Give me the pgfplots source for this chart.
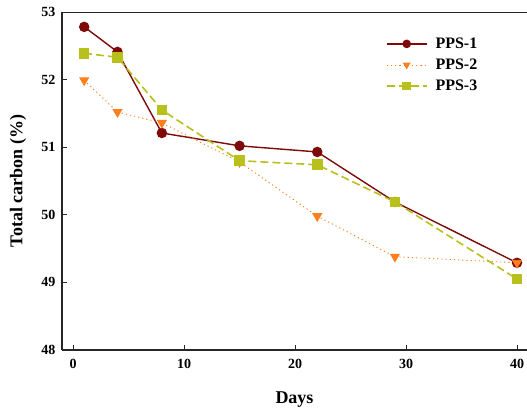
\documentclass[border=0pt]{standalone}
\usepackage{fontspec}
\setmainfont{Liberation Serif}
\usepackage{pgfplots}
\pgfplotsset{compat=1.18}
\usetikzlibrary{calc}
\definecolor{ppsone}{HTML}{7E0A0A}
\definecolor{ppstwo}{HTML}{FF7F1E}
\definecolor{ppsthree}{HTML}{B8C01C}

\begin{document}
\begin{tikzpicture}
\begin{axis}[
  name=ax, scale only axis,
  width=465pt, height=338pt,
  xmin=-1, xmax=40.9, ymin=48, ymax=53,
  axis lines=left,
  axis line style={-, line width=1.1pt, black!85},
  xtick={0,10,20,30,40}, ytick={48,49,50,51,52,53},
  tick align=inside, major tick length=5pt,
  tick style={line width=1pt, black!85},
  /pgf/number format/assume math mode=true,
  ticklabel style={font=\fontsize{14}{16}\selectfont\bfseries},
  xticklabel style={yshift=-6pt},
  yticklabel style={xshift=-3pt},
  xlabel={Days}, ylabel={Total carbon (\%)},
  every axis x label/.style={at={(axis description cs:0.5,0)}, anchor=center,
    yshift=-50pt, font=\fontsize{18}{20}\selectfont\bfseries},
  every axis y label/.style={at={(axis description cs:0,0.5)}, xshift=-44pt,
    rotate=90, anchor=center, font=\fontsize{18}{20}\selectfont\bfseries},
  legend style={at={(axis cs:27.9,52.68)}, anchor=north west, draw=none, fill=none,
    font=\fontsize{16}{18}\selectfont\bfseries, row sep=5pt},
  legend cell align=left,
  legend image code/.code={
    \draw[mark repeat=2, mark phase=2, #1, mark size=3.6pt] plot coordinates {(0pt,0pt) (20pt,0pt) (40pt,0pt)};
  },
  legend style={/tikz/every odd column/.append style={column sep=6pt}},
]
\draw[line width=1.1pt, black!85] (rel axis cs:0,1) -- (rel axis cs:1,1);
\addplot[ppsone, line width=1.4pt, mark=*, mark size=4.5pt] coordinates {
(1,52.78) (4,52.41) (8,51.21) (15,51.02) (22,50.93) (29,50.19) (40,49.29)
};
\addlegendentry{PPS-1}
\addplot[ppstwo, line width=0.9pt, dash pattern=on 1.2pt off 3pt, mark=triangle*, mark size=5pt,
  mark options={solid, rotate=180}] coordinates {
(1,51.99) (4,51.52) (8,51.36) (15,50.78) (22,49.98) (29,49.38) (40,49.29)
};
\addlegendentry{PPS-2}
\addplot[ppsthree, line width=1.6pt, dash pattern=on 8pt off 4pt, mark=square*, mark size=4.5pt,
  mark options={solid}] coordinates {
(1,52.39) (4,52.33) (8,51.55) (15,50.80) (22,50.74) (29,50.19) (40,49.05)
};
\addlegendentry{PPS-3}
\end{axis}
\pgfresetboundingbox
\path[use as bounding box] ($(ax.south west)+(-62pt,-60pt)$) rectangle ($(ax.north east)+(0pt,12pt)$);
\end{tikzpicture}
\end{document}
